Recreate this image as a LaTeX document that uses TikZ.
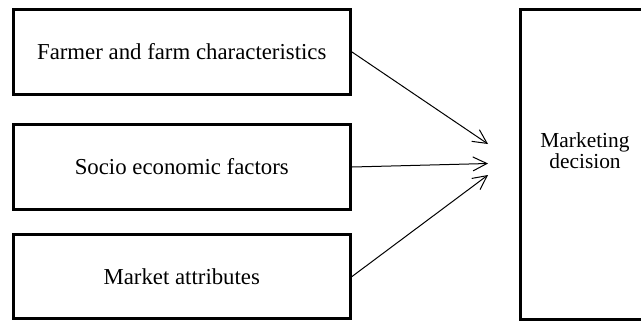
\documentclass[tikz,border=0pt]{standalone}
\usepackage{fontspec}
\setmainfont{Liberation Serif}
\usetikzlibrary{arrows.meta}

\begin{document}
\begin{tikzpicture}[x=0.5pt, y=-0.5pt,
  factor/.style={rectangle, draw, line width=1.5pt, minimum width=168.75pt, minimum height=42.4pt, font=\fontsize{11.4}{13}\selectfont},
  link/.style={line width=0.5pt, -{Straight Barb[length=7pt, width=7pt]}}]
\useasboundingbox (0,0) rectangle (641,322);

% Factor level
\node[factor] (farmer) at (181.75,52) {Farmer and farm characteristics};
\node[factor] (socio) at (181.75,167) {Socio economic factors};
\node[factor] (market) at (181.75,276.5) {Market attributes};

% Decision level
\node[rectangle, draw, line width=1.5pt, minimum width=65pt, minimum height=154.75pt] (decision) at (585,164.25) {};
\node[align=center, font=\fontsize{10.7}{9}\selectfont] (decisiontext) at (585,150.7) {Marketing\\decision};

% Arrow ends
\coordinate (farmertip) at (488,144);
\coordinate (sociotip) at (488,163.5);
\coordinate (markettip) at (488,175);

% Connections
\draw[link] (farmer.east) -- (farmertip);
\draw[link] (socio.east) -- (sociotip);
\draw[link] (market.east) -- (markettip);
\end{tikzpicture}
\end{document}
